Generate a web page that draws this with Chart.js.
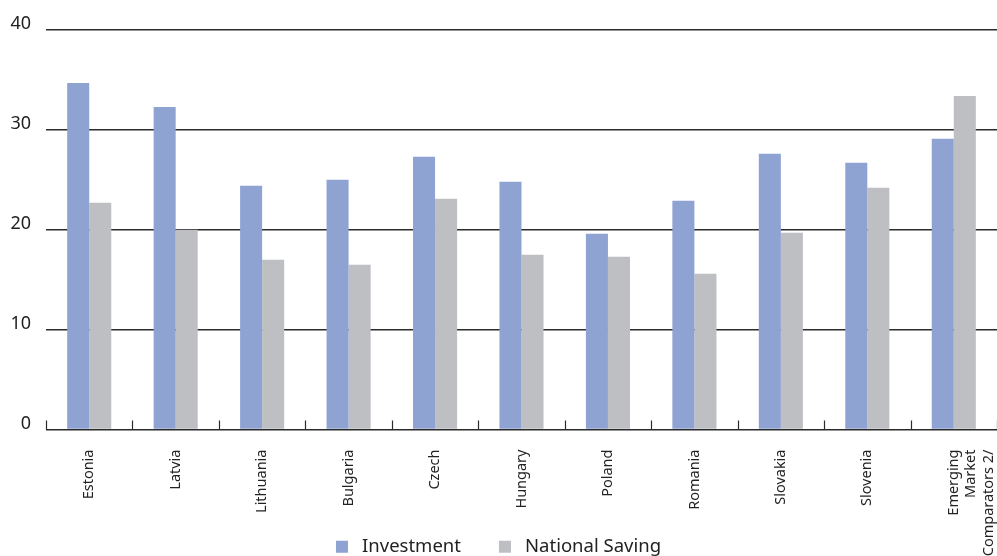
<!DOCTYPE html>
<html><head><meta charset="utf-8">
<script src="https://cdn.jsdelivr.net/npm/chart.js@4"></script>
<style>html,body{margin:0;padding:0;background:#fff;overflow:hidden}#wrap{width:997px;height:566px}</style>
</head><body><div id="wrap"><canvas id="c"></canvas></div>
<script>
const categories = ["Estonia","Latvia","Lithuania","Bulgaria","Czech","Hungary","Poland","Romania","Slovakia","Slovenia",["Emerging","Market","Comparators 2/"]];
const investment = [34.7, 32.3, 24.4, 25.0, 27.3, 24.8, 19.6, 22.9, 27.6, 26.7, 29.1];
const nationalSaving = [22.7, 20.0, 17.0, 16.5, 23.1, 17.5, 17.3, 15.6, 19.7, 24.2, 33.4];
const yTicks = [0, 10, 20, 30, 40];

const FONT = "'Noto Sans', sans-serif";
const upTicks = {
  id: 'upTicks',
  afterDraw(chart) {
    const x = chart.scales.x, ctx = chart.ctx, bottom = chart.chartArea.bottom;
    ctx.save();
    ctx.strokeStyle = '#2b2b2b';
    ctx.lineWidth = 1.2;
    for (let i = 0; i <= categories.length; i++) {
      const px = Math.round(x.getPixelForValue(i - 0.5)) + 0.5;
      ctx.beginPath();
      ctx.moveTo(px, bottom);
      ctx.lineTo(px, bottom - 9);
      ctx.stroke();
    }
    ctx.restore();
  }
};

new Chart(document.getElementById('c'), {
  type: 'bar',
  data: {
    labels: categories,
    datasets: [
      { label: 'Investment', data: investment, backgroundColor: '#8FA3D3', barPercentage: 1.0, categoryPercentage: 0.51 },
      { label: 'National Saving', data: nationalSaving, backgroundColor: '#BEBFC3', barPercentage: 1.0, categoryPercentage: 0.51 }
    ]
  },
  options: {
    responsive: true,
    maintainAspectRatio: false,
    animation: false,
    layout: { padding: { top: 30, right: 0, left: 0, bottom: 0 } },
    plugins: {
      tooltip: { enabled: false },
      legend: {
        position: 'bottom',
        labels: {
          font: { family: FONT, size: 18.5 }, color: '#222', boxWidth: 12, boxHeight: 12, padding: 38,
          generateLabels(chart) {
            return Chart.defaults.plugins.legend.labels.generateLabels(chart).map(l => ({ ...l, text: ' ' + l.text }));
          }
        }
      }
    },
    scales: {
      x: {
        offset: true,
        grid: { display: false, drawTicks: false },
        border: { display: false },
        ticks: { font: { family: FONT, size: 14.5 }, color: '#222', minRotation: 90, maxRotation: 90, padding: 20, autoSkip: false },
        afterFit(scale) {
          scale.height = 70;
          scale.paddingLeft = 0;
          scale.paddingRight = 0;
          scale._computeLabelArea = () => undefined;
        }
      },
      y: {
        min: 0, max: 40,
        afterBuildTicks(scale) { scale.ticks = yTicks.map(v => ({ value: v })); },
        grid: { color: '#2b2b2b', lineWidth: 1.4, drawTicks: false },
        border: { display: false },
        ticks: { font: { family: FONT, size: 18 }, color: '#222', padding: 15, labelOffset: -6 },
        afterFit(scale) { scale.width = 46; }
      }
    }
  },
  plugins: [upTicks]
});
</script>
</body></html>
